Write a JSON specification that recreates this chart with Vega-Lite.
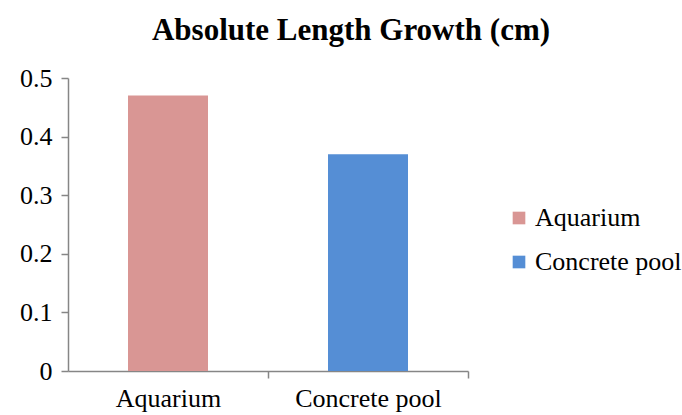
{
  "$schema": "https://vega.github.io/schema/vega-lite/v6.json",
  "autosize": "none",
  "width": 400,
  "height": 293,
  "padding": {"left": 68, "top": 78, "right": 214, "bottom": 44},
  "background": "white",
  "title": {
    "text": "Absolute Length Growth (cm)",
    "font": "Liberation Serif",
    "fontSize": 31,
    "fontWeight": "bold",
    "color": "#000000",
    "anchor": "middle",
    "dx": 83,
    "offset": 18
  },
  "data": {
    "values": [
      {"site": "Aquarium", "growth": 0.47},
      {"site": "Concrete pool", "growth": 0.37}
    ]
  },
  "mark": {"type": "bar"},
  "encoding": {
    "x": {
      "field": "site",
      "type": "nominal",
      "sort": null,
      "title": null,
      "scale": {"paddingInner": 0.6, "paddingOuter": 0.3},
      "axis": {
        "labelAngle": 0,
        "tickOffset": 100,
        "labelOffset": -100,
        "labelFont": "Liberation Serif",
        "labelFontSize": 26,
        "labelColor": "#000000",
        "labelPadding": 7,
        "domainColor": "#868686",
        "domainWidth": 1.5,
        "tickColor": "#868686",
        "tickWidth": 1.5,
        "tickSize": 7,
        "grid": false
      }
    },
    "y": {
      "field": "growth",
      "type": "quantitative",
      "title": null,
      "scale": {"domain": [0, 0.5], "nice": false},
      "axis": {
        "values": [0, 0.1, 0.2, 0.3, 0.4, 0.5],
        "format": "~g",
        "labelFont": "Liberation Serif",
        "labelFontSize": 26,
        "labelColor": "#000000",
        "labelPadding": 9,
        "domainColor": "#868686",
        "domainWidth": 1.5,
        "tickColor": "#868686",
        "tickWidth": 1.5,
        "tickSize": 7,
        "grid": false
      }
    },
    "color": {
      "field": "site",
      "type": "nominal",
      "sort": null,
      "scale": {"range": ["#D99694", "#558ED5"]},
      "legend": {
        "title": null,
        "orient": "none",
        "legendX": 438,
        "legendY": 127,
        "symbolType": "square",
        "symbolSize": 160,
        "symbolStrokeWidth": 0,
        "labelFont": "Liberation Serif",
        "labelFontSize": 26,
        "labelColor": "#000000",
        "rowPadding": 18,
        "labelOffset": 3,
        "padding": 0
      }
    }
  },
  "config": {"view": {"stroke": null}}
}
